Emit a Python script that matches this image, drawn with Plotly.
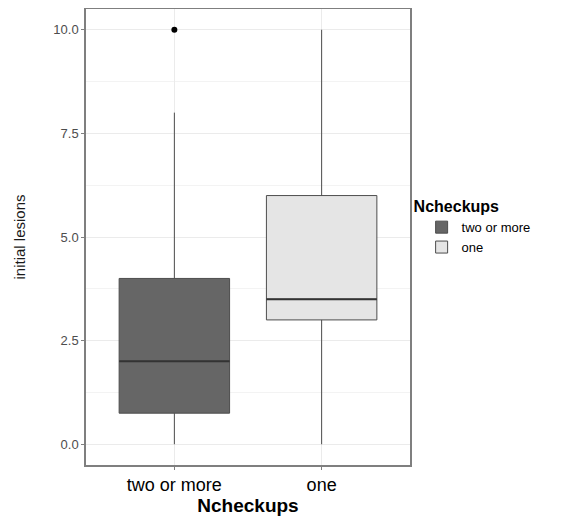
import plotly.graph_objects as go

categories = ["two or more", "one"]
positions = [1, 2]
q1 = [0.75, 3.0]
median = [2.0, 3.5]
q3 = [4.0, 6.0]
lower = [0.0, 0.0]
upper = [8.0, 10.0]
outlier_cat = [1]
outlier_val = [10.0]
fills = ["#666666", "#e5e5e5"]
y_ticks = [0.0, 2.5, 5.0, 7.5, 10.0]
y_ticklabels = ["0.0", "2.5", "5.0", "7.5", "10.0"]

half = 0.375
fig = go.Figure()
for i, cat in enumerate(categories):
    fig.add_trace(go.Box(
        x=[positions[i]], q1=[q1[i]], median=[median[i]], q3=[q3[i]],
        lowerfence=[lower[i]], upperfence=[upper[i]],
        name=cat, fillcolor=fills[i],
        line=dict(color="#4d4d4d", width=1), whiskerwidth=0,
        width=2 * half, boxpoints=False, showlegend=True,
    ))
    fig.add_trace(go.Scatter(
        x=[positions[i] - half, positions[i] + half], y=[median[i], median[i]],
        mode="lines", line=dict(color="#333333", width=2), showlegend=False,
        hoverinfo="skip",
    ))
fig.add_trace(go.Scatter(
    x=outlier_cat, y=outlier_val, mode="markers",
    marker=dict(color="black", size=6), showlegend=False,
))

fig.update_layout(
    width=554, height=515,
    margin=dict(l=78, r=152, t=1, b=58),
    plot_bgcolor="white", paper_bgcolor="white",
    font=dict(family="Liberation Sans, Arial, sans-serif", color="black"),
    legend=dict(
        title=dict(text="<b>Ncheckups</b>", font=dict(size=16)),
        font=dict(size=13), x=1.005, xanchor="left", y=0.6, yanchor="top",
        tracegroupgap=0, itemwidth=30, indentation=10,
    ),
    boxgap=0,
)
fig.update_xaxes(
    range=[0.4, 2.6], tickmode="array", tickvals=positions, ticktext=categories,
    tickfont=dict(size=18, color="black"),
    title=dict(text="<b>Ncheckups</b>", font=dict(size=19), standoff=0),
    showgrid=True, gridcolor="#ebebeb", gridwidth=1,
    showline=True, linecolor="#7f7f7f", linewidth=1.5, mirror=True,
    ticks="outside", ticklen=3, tickcolor="#7f7f7f", zeroline=False,
    automargin=False,
)
fig.update_yaxes(
    range=[-0.5, 10.5], tickmode="array", tickvals=y_ticks, ticktext=y_ticklabels,
    tickfont=dict(size=13, color="#4d4d4d"),
    title=dict(text="initial lesions", font=dict(size=15, color="#1a1a1a"), standoff=24),
    showgrid=True, gridcolor="#ebebeb", gridwidth=1,
    minor=dict(tickvals=[1.25, 3.75, 6.25, 8.75], showgrid=True, gridcolor="#f3f3f3", ticks=""),
    showline=True, linecolor="#7f7f7f", linewidth=1.5, mirror=True,
    ticks="outside", ticklen=3, tickcolor="#7f7f7f", zeroline=False,
)
fig.write_html("out.html")
